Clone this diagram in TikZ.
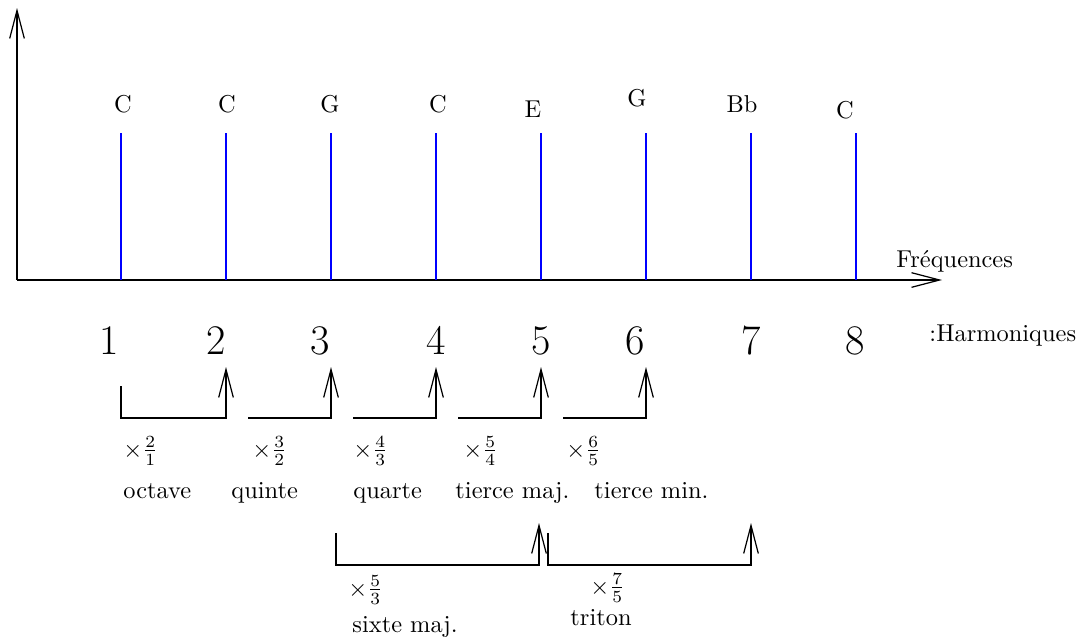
\documentclass[tikz,border=0pt]{standalone}
\usetikzlibrary{arrows.meta}
\begin{document}
\begin{tikzpicture}[x=0.0144cm,y=-0.0144cm,
    fleche/.style={line width=0.8pt,-{Straight Barb[length=11.5pt,width=6pt,line width=0.5pt]}},
    raie/.style={blue,line width=0.8pt},
    txt/.style={inner sep=0pt,anchor=base west},
    note/.style={inner sep=0pt,anchor=base},
    harm/.style={inner sep=0pt,anchor=base,font=\LARGE}]
    \useasboundingbox (0,0) rectangle (1080,637);
    % axes
    \coordinate (O) at (17,280);
    \coordinate (yhaut) at (17,8);
    \coordinate (xfin) at (942,280);
    \draw [fleche] (O) -- (yhaut);
    \draw [fleche] (O) -- (xfin);
    \node [txt] (freq) at (896,267) {Fr\'equences};
    % raies du spectre
    \foreach \i/\x in {1/121,2/226,3/331,4/436,5/541,6/646,7/751,8/856} {
        \coordinate (r\i) at (\x,280);
        \draw [raie] (r\i) -- ++(0,-147);
    }
    \foreach \i/\x/\y/\nom in {1/123/112/C,2/227/112/C,3/330/112/G,4/438/112/C,
                               5/533/117/E,6/637/106/G,7/742/112/Bb,8/845/118/C}
        \node [note] (nom\i) at (\x,\y) {\nom};
    % numeros des harmoniques
    \foreach \i/\x in {1/109,2/216,3/320,4/436,5/541,6/635,7/751,8/855}
        \node [harm] (h\i) at (\x,354) {\i};
    \node [txt] (harmo) at (929,341) {:Harmoniques};
    % intervalles entre harmoniques voisins
    \coordinate (s1) at (121,386);
    \foreach \d/\g/\f in {1/121/226,2/248/331,3/353/436,4/458/541,5/563/646} {
        \coordinate (g\d) at (\g,418);
        \coordinate (f\d) at (\f,367);
    }
    \draw [fleche] (s1) -- (g1) -| (f1);
    \foreach \d in {2,3,4,5}
        \draw [fleche] (g\d) -| (f\d);
    \node [txt] (x1) at (123,457) {$\times\frac{2}{1}$};
    \node [txt] (x2) at (252,457) {$\times\frac{3}{2}$};
    \node [txt] (x3) at (353,457) {$\times\frac{4}{3}$};
    \node [txt] (x4) at (463,457) {$\times\frac{5}{4}$};
    \node [txt] (x5) at (566,457) {$\times\frac{6}{5}$};
    \node [txt] (i1) at (123,498) {octave};
    \node [txt] (i2) at (231,498) {quinte};
    \node [txt] (i3) at (353,498) {quarte};
    \node [txt] (i4) at (455,498) {tierce maj.};
    \node [txt] (i5) at (594,498) {tierce min.};
    % sixte et triton
    \coordinate (s6) at (336,533);
    \coordinate (f6) at (539,523);
    \coordinate (s7) at (548,533);
    \coordinate (f7) at (751,523);
    \draw [fleche] (s6) |- (f6 |- 0,565) -- (f6);
    \draw [fleche] (s7) |- (f7 |- 0,565) -- (f7);
    \node [txt] (x6) at (348,596) {$\times\frac{5}{3}$};
    \node [txt] (i6) at (352,632) {sixte maj.};
    \node [txt] (x7) at (590,594) {$\times\frac{7}{5}$};
    \node [txt] (i7) at (570,625) {triton};
\end{tikzpicture}
\end{document}
